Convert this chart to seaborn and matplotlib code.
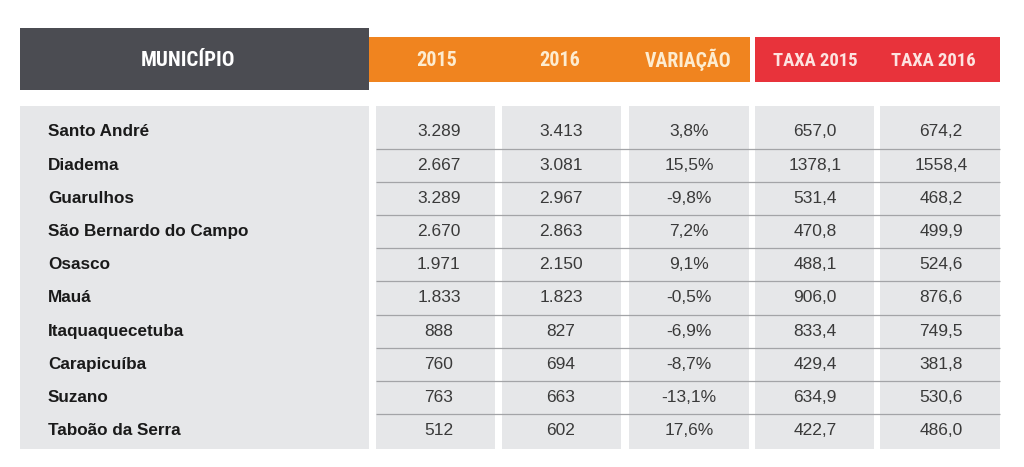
import matplotlib.pyplot as plt
import seaborn as sns
from matplotlib import font_manager
from matplotlib.patches import Rectangle


MUNICIPIOS = [
    "Santo André", "Diadema", "Guarulhos", "São Bernardo do Campo", "Osasco",
    "Mauá", "Itaquaquecetuba", "Carapicuíba", "Suzano", "Taboão da Serra",
]
CASOS_2015 = ["3.289", "2.667", "3.289", "2.670", "1.971", "1.833", "888", "760", "763", "512"]
CASOS_2016 = ["3.413", "3.081", "2.967", "2.863", "2.150", "1.823", "827", "694", "663", "602"]
VARIACAO = ["3,8%", "15,5%", "-9,8%", "7,2%", "9,1%", "-0,5%", "-6,9%", "-8,7%", "-13,1%", "17,6%"]
TAXA_2015 = ["657,0", "1378,1", "531,4", "470,8", "488,1", "906,0", "833,4", "429,4", "634,9", "422,7"]
TAXA_2016 = ["674,2", "1558,4", "468,2", "499,9", "524,6", "876,6", "749,5", "381,8", "530,6", "486,0"]
HEADERS = ["MUNICÍPIO", "2015", "2016", "VARIAÇÃO", "TAXA 2015", "TAXA 2016"]

DARK = "#4b4c52"
ORANGE = "#f0841f"
RED = "#e8333b"
PANEL = "#e6e7e9"
LINE = "#a3a4a7"

# column panels (left, right) in pixel coordinates
COLS = [(20, 369), (376, 495), (502, 621), (629, 749), (755, 874), (880, 1000)]
HEADER_X = [188, 437, 560, 688, 815, 933]
HEADER_Y = [61, 60, 60, 60, 61.5, 61.5]
HEADER_COLORS = ["#ffffff", "#fdecd0", "#fdecd0", "#fdecd0", "#fde3e0", "#fde3e0"]


def condensed_family() -> list[str]:
    names = {f.name for f in font_manager.fontManager.ttflist}
    for cand in ["Roboto Condensed", "Liberation Sans Narrow", "Open Sans Condensed",
                 "Noto Sans Condensed", "DejaVu Sans Condensed"]:
        if cand in names:
            return [cand, "Liberation Sans", "DejaVu Sans"]
    return ["Liberation Sans", "DejaVu Sans"]


sns.set_theme(style="white")
plt.rcParams["font.family"] = ["Liberation Sans", "DejaVu Sans"]

fig = plt.figure(figsize=(10.24, 4.67), dpi=100)
ax = fig.add_axes([0, 0, 1, 1])
ax.set_xlim(0, 1024)
ax.set_ylim(467, 0)
ax.axis("off")

# header blocks
ax.add_patch(Rectangle((20, 28), 349, 62, color=DARK, lw=0))
ax.add_patch(Rectangle((369, 37), 381, 45, color=ORANGE, lw=0))
ax.add_patch(Rectangle((755, 37), 245, 45, color=RED, lw=0))

head_family = condensed_family()
narrow = head_family[0] != "Liberation Sans"
sizes = [15, 14.5, 14.5, 14.3, 13.4, 13.4] if narrow else [13, 12.5, 12.5, 12, 11.5, 11.5]
for label, x, y, c, s in zip(HEADERS, HEADER_X, HEADER_Y, HEADER_COLORS, sizes):
    ax.text(x, y, label, fontsize=s, family=head_family, fontweight="bold",
            fontstretch="condensed", color=c, ha="center", va="center")

# body panels
top, bottom = 106, 449
for left, right in COLS:
    ax.add_patch(Rectangle((left, top), right - left, bottom - top, color=PANEL, lw=0))

row_step = 33.2
first_row = 132
n = len(MUNICIPIOS)
for i in range(n - 1):
    y = first_row + row_step * i + row_step / 2
    ax.plot([376, 1000], [y, y], color=LINE, lw=0.9, solid_capstyle="butt")

columns = [CASOS_2015, CASOS_2016, VARIACAO, TAXA_2015, TAXA_2016]
centers = [439, 561, 689, 815, 941]
for i, name in enumerate(MUNICIPIOS):
    y = first_row + row_step * i
    ax.text(48, y, name, fontsize=12.3, fontweight="bold", color="#1a1a1a",
            ha="left", va="center")
    for values, cx in zip(columns, centers):
        ax.text(cx, y, values[i], fontsize=12.5, color="#3a3a3a",
                ha="center", va="center")

fig.savefig("out.png", dpi=100)
